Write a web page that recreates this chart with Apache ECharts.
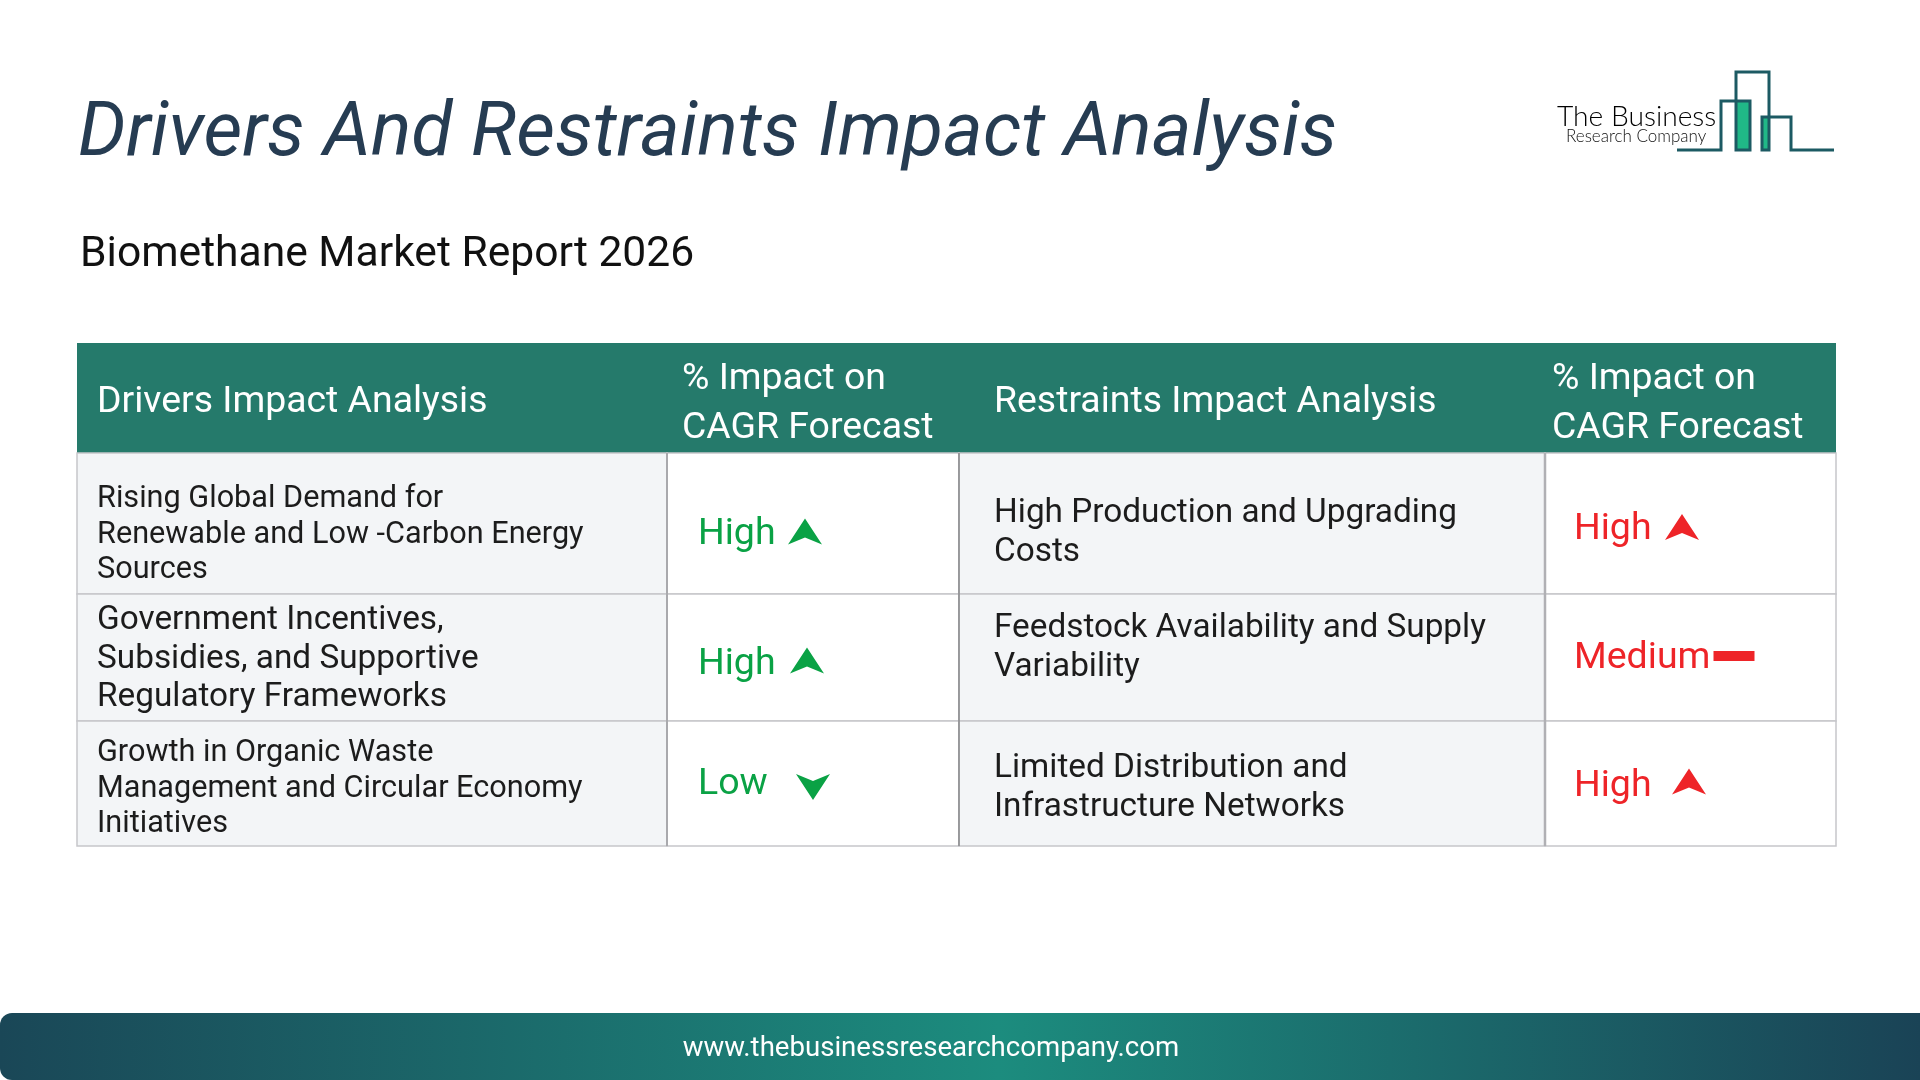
<!DOCTYPE html>
<html>
<head>
  <meta charset="UTF-8">
  <title>Drivers And Restraints Impact Analysis</title>
  <style>
    body { margin: 0; background: #fff; }
    #main { width: 1920px; height: 1080px; }
  </style>
</head>
<body>
  <div id="main"></div>
  <script src="https://cdn.jsdelivr.net/npm/echarts@6/dist/echarts.min.js"></script>
  <script>
    const titleText = 'Drivers And Restraints Impact Analysis';
    const subtitleText = 'Biomethane Market Report 2026';
    const footerText = 'www.thebusinessresearchcompany.com';

    const columns = ['drivers', 'driverImpact', 'restraints', 'restraintImpact'];
    const rows = ['head', 'r1', 'r2', 'r3'];
    const headers = ['Drivers Impact Analysis', '% Impact on\nCAGR Forecast', 'Restraints Impact Analysis', '% Impact on\nCAGR Forecast'];
    const drivers = [
      'Rising Global Demand for\nRenewable and Low -Carbon Energy\nSources',
      'Government Incentives,\nSubsidies, and Supportive\nRegulatory Frameworks',
      'Growth in Organic Waste\nManagement and Circular Economy\nInitiatives'
    ];
    const driverImpact = ['High', 'High', 'Low'];
    const restraints = [
      'High Production and Upgrading\nCosts',
      'Feedstock Availability and Supply\nVariability',
      'Limited Distribution and\nInfrastructure Networks'
    ];
    const restraintImpact = ['High', 'Medium', 'High'];

    // layout, in page pixels
    const colWidths = [590, 292, 586, 291];
    const rowHeights = [110, 141, 127, 125];
    const tableLeft = 77, tableTop = 343;
    const colLeft = colWidths.map((w, i) => tableLeft + colWidths.slice(0, i).reduce((a, b) => a + b, 0));
    const rowTop = rowHeights.map((h, i) => tableTop + rowHeights.slice(0, i).reduce((a, b) => a + b, 0));

    const GREEN = '#0aa245', RED = '#ee2428', HEAD = '#257a6b', FONT = 'Roboto';
    const upArrow = 'path://M0,-13 L17,13 L0,6 L-17,13 Z';
    const bar = 'path://M-20,-5 L20,-5 L20,5 L-20,5 Z';

    // offset of a left aligned label from the centre of cell (c, r)
    function textItem(c, r, text, left, midY, style) {
      const cx = colLeft[c] + colWidths[c] / 2;
      const cy = rowTop[r] + rowHeights[r] / 2;
      return {
        value: [columns[c], rows[r]],
        label: Object.assign({
          show: true,
          formatter: text,
          offset: [left - cx, midY - cy]
        }, style)
      };
    }

    const headStyle = { color: '#fff', fontSize: 37.4, lineHeight: 49 };
    const smallRow = { color: '#1c1c1c', fontSize: 30.65, lineHeight: 35.5 };
    const bigRow = { color: '#1c1c1c', fontSize: 33.35, lineHeight: 39 };
    const impactFont = 37.5;

    const textData = [
      textItem(0, 0, headers[0], 97, 403, headStyle),
      textItem(1, 0, headers[1], 682, 404, headStyle),
      textItem(2, 0, headers[2], 994, 403, headStyle),
      textItem(3, 0, headers[3], 1552, 404, headStyle),
      textItem(0, 1, drivers[0], 97, 535, smallRow),
      textItem(0, 2, drivers[1], 97, 659.5, Object.assign({}, bigRow, { lineHeight: 38.5 })),
      textItem(0, 3, drivers[2], 97, 789, smallRow),
      textItem(2, 1, restraints[0], 994, 533, bigRow),
      textItem(2, 2, restraints[1], 994, 648, bigRow),
      textItem(2, 3, restraints[2], 994, 788, bigRow),
      textItem(1, 1, driverImpact[0], 698, 535, { color: GREEN, fontSize: impactFont }),
      textItem(1, 2, driverImpact[1], 698, 665, { color: GREEN, fontSize: impactFont }),
      textItem(1, 3, driverImpact[2], 698, 785, { color: GREEN, fontSize: impactFont }),
      textItem(3, 1, restraintImpact[0], 1574, 530, { color: RED, fontSize: impactFont }),
      textItem(3, 2, restraintImpact[1], 1574, 659, { color: RED, fontSize: impactFont }),
      textItem(3, 3, restraintImpact[2], 1574, 787, { color: RED, fontSize: impactFont })
    ];

    function arrowItem(c, r, symbol, rotate, offset, color) {
      return {
        value: [columns[c], rows[r]],
        symbol: symbol,
        symbolRotate: rotate,
        symbolOffset: offset,
        itemStyle: { color: color, opacity: 1 }
      };
    }
    const symbolFor = { High: [upArrow, 0, [34, 26]], Low: [upArrow, 180, [34, 26]], Medium: [bar, 0, [41, 10]] };
    const driverOffsets = [[-8, 8], [-6, 3], [0, 3.5]];
    const restraintOffsets = [[-8.5, 3.5], [43.5, -1.5], [-1.5, -2]];
    const arrowData = [];
    driverImpact.forEach((lv, i) => {
      const s = symbolFor[lv];
      const d = arrowItem(1, i + 1, s[0], s[1], driverOffsets[i], GREEN);
      d.symbolSize = s[2];
      arrowData.push(d);
    });
    restraintImpact.forEach((lv, i) => {
      const s = symbolFor[lv];
      const d = arrowItem(3, i + 1, s[0], s[1], restraintOffsets[i], RED);
      d.symbolSize = s[2];
      arrowData.push(d);
    });

    // cell backgrounds
    const cells = [];
    columns.forEach((c, ci) => {
      rows.forEach((r, ri) => {
        const isHead = ri === 0;
        cells.push({
          coord: [ci, ri],
          value: '',
          itemStyle: {
            color: isHead ? HEAD : (ci % 2 === 0 ? '#f3f5f7' : '#ffffff'),
            borderColor: isHead ? HEAD : '#c6c6ca',
            borderWidth: isHead ? 0 : 1.5
          }
        });
      });
    });

    // logo outline, page pixels
    const logoLine = [[1677, 150], [1721, 150], [1721, 101], [1750, 101], [1750, 150], [1736, 150], [1736, 72],
      [1769, 72], [1769, 150], [1762, 150], [1762, 117], [1791, 117], [1791, 150], [1834, 150]];

    const chart = echarts.init(document.getElementById('main'));
    chart.setOption({
      animation: false,
      backgroundColor: '#fff',
      textStyle: { fontFamily: FONT },
      title: [
        {
          text: titleText, left: 73, top: 94,
          textStyle: { fontFamily: FONT, fontStyle: 'italic', fontWeight: 'normal', fontSize: 75.4, color: '#263c52' }
        },
        {
          text: subtitleText, left: 75, top: 229,
          textStyle: { fontFamily: FONT, fontWeight: 'normal', fontSize: 42.6, color: '#111' }
        }
      ],
      matrix: {
        left: tableLeft,
        top: tableTop,
        width: 1759,
        height: 503,
        x: { show: false, data: columns.map((c, i) => ({ value: c, size: colWidths[i] })) },
        y: { show: false, data: rows.map((r, i) => ({ value: r, size: rowHeights[i] })) },
        body: { data: cells },
        backgroundStyle: { borderWidth: 0 }
      },
      series: [
        {
          type: 'scatter',
          coordinateSystem: 'matrix',
          symbolSize: 1,
          itemStyle: { color: 'transparent', opacity: 1 },
          z: 5,
          label: { show: true, position: 'inside', align: 'left', verticalAlign: 'middle', fontFamily: FONT },
          data: textData
        },
        {
          type: 'scatter',
          coordinateSystem: 'matrix',
          z: 5,
          data: arrowData
        }
      ],
      graphic: [
        { type: 'line', z: 4, shape: { x1: 667, y1: 453, x2: 667, y2: 846 }, style: { stroke: '#a9a9ad', lineWidth: 2 } },
        { type: 'line', z: 4, shape: { x1: 959, y1: 453, x2: 959, y2: 846 }, style: { stroke: '#77777a', lineWidth: 1.2 } },
        { type: 'line', z: 4, shape: { x1: 1545, y1: 453, x2: 1545, y2: 846 }, style: { stroke: '#b0b0b4', lineWidth: 2.5 } },
        { type: 'rect', z: 1, shape: { x: 1736, y: 101, width: 14, height: 49 }, style: { fill: '#20b887' } },
        { type: 'rect', z: 1, shape: { x: 1762, y: 117, width: 7, height: 33 }, style: { fill: '#20b887' } },
        { type: 'polyline', z: 2, shape: { points: logoLine }, style: { fill: null, stroke: '#1c5a63', lineWidth: 3 } },
        { type: 'text', z: 2, x: 1557, y: 103, style: { text: 'The Business', fill: '#000', font: '300 28.2px Lato' } },
        { type: 'text', z: 2, x: 1566, y: 128, style: { text: 'Research Company', fill: '#111', font: '300 17px Lato' } },
        {
          type: 'rect', z: 1,
          shape: { x: 0, y: 1013, width: 1920, height: 67, r: [12, 0, 0, 12] },
          style: {
            fill: new echarts.graphic.LinearGradient(0, 0, 1, 0, [
              { offset: 0, color: '#1a4757' },
              { offset: 0.52, color: '#1c8c7e' },
              { offset: 1, color: '#1a4356' }
            ])
          }
        },
        {
          type: 'text', z: 2, x: 931, y: 1049.5,
          style: { text: footerText, fill: '#fff', font: '27.6px Roboto', align: 'center', verticalAlign: 'middle' }
        }
      ]
    });
  </script>
</body>
</html>
